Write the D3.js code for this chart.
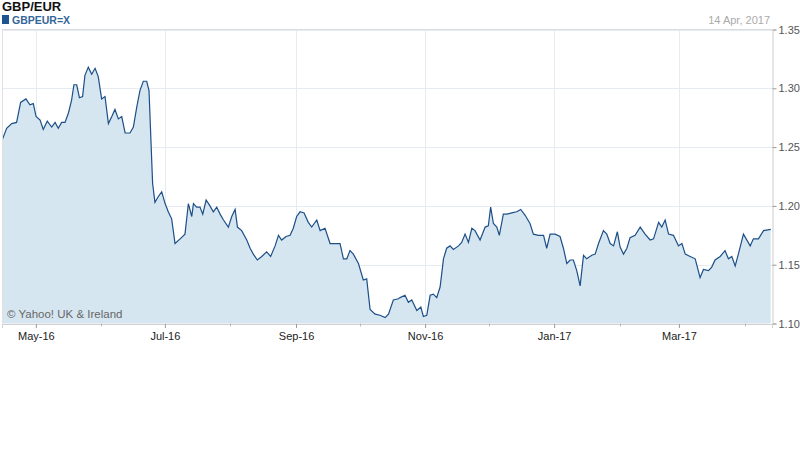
<!DOCTYPE html>
<html><head><meta charset="utf-8">
<script src="https://cdn.jsdelivr.net/npm/d3@7"></script>
<style>body{margin:0;background:#fff;font-family:"Liberation Sans",Arial,sans-serif}</style>
</head><body><svg id="c" width="800" height="475"></svg>
<script>
const startDate = new Date(2016,3,15);
const dayOffsets = [0.3,2.2,4.6,6.9,8.8,11.3,13.2,14.8,16.1,18.0,19.5,21.4,23.5,25.1,26.6,28.2,29.8,31.4,32.9,34.0,35.3,36.6,38.1,39.2,40.8,42.4,44.0,45.5,47.1,48.7,50.3,51.9,53.4,55.0,56.6,58.2,60.5,62.1,63.7,65.2,66.8,68.4,69.5,70.4,71.2,72.3,73.9,75.5,77.1,78.6,80.2,81.8,84.2,86.5,88.1,89.7,90.5,92.0,93.6,94.9,96.5,98.3,99.9,101.5,103.1,104.7,107.0,108.6,110.2,111.3,113.3,115.7,117.3,118.8,120.7,122.8,125.1,127.0,129.1,130.7,132.2,134.3,136.2,137.7,139.3,140.9,142.8,144.8,146.4,148.8,150.4,152.7,155.1,157.4,159.8,161.4,163.0,164.5,166.1,168.5,170.8,172.4,174.0,176.4,178.7,181.1,182.7,185.0,187.4,
188.2,190.5,192.1,193.7,196.1,198.0,199.2,200.8,202.4,203.9,205.5,207.1,208.7,210.2,211.8,213.4,215.8,217.3,218.9,220.5,222.1,223.6,226.0,228.4,229.9,231.0,232.3,233.9,235.1,237.0,238.6,241.0,243.3,245.2,247.3,249.6,251.2,253.6,256.0,257.5,259.1,261.5,263.8,265.4,267.0,268.6,270.1,271.7,273.3,274.9,276.4,278.8,280.4,282.0,284.3,285.9,287.5,289.1,290.9,292.2,293.8,295.4,296.9,299.3,301.7,304.0,306.4,308.0,310.4,311.9,313.5,315.1,317.4,319.8,321.4,323.0,325.3,327.7,330.0,331.6,334.0,335.5,337.1,339.5,341.8,343.4,345.0,346.6,348.1,350.5,353.7,355.2,357.6,360.0,363.4];
const rates = [1.257,1.266,1.270,1.271,1.288,1.291,1.286,1.287,1.276,1.273,1.265,1.272,1.267,1.271,1.266,1.271,1.271,1.279,1.290,1.303,1.303,1.292,1.293,1.311,1.318,1.312,1.317,1.310,1.291,1.293,1.270,1.276,1.282,1.274,1.276,1.262,1.262,1.267,1.284,1.298,1.306,1.306,1.298,1.256,1.219,1.203,1.208,1.212,1.202,1.195,1.189,1.168,1.172,1.176,1.202,1.191,1.202,1.199,1.199,1.193,1.205,1.200,1.195,1.199,1.193,1.188,1.182,1.191,1.197,1.182,1.179,1.171,1.164,1.159,1.154,1.157,1.161,1.157,1.166,1.175,1.171,1.174,1.175,1.181,1.191,1.195,1.194,1.186,1.182,1.188,1.179,1.181,1.168,1.168,1.168,1.155,1.155,1.162,1.159,1.151,1.137,1.138,1.112,1.108,1.107,1.105,1.108,1.120,1.121,
1.122,1.124,1.118,1.120,1.111,1.114,1.106,1.107,1.124,1.125,1.122,1.131,1.155,1.164,1.166,1.163,1.166,1.169,1.176,1.169,1.181,1.179,1.171,1.182,1.183,1.199,1.185,1.182,1.175,1.193,1.193,1.194,1.195,1.197,1.192,1.185,1.176,1.175,1.175,1.164,1.176,1.176,1.174,1.164,1.151,1.154,1.154,1.145,1.132,1.158,1.155,1.158,1.159,1.168,1.179,1.176,1.168,1.166,1.178,1.165,1.159,1.164,1.173,1.175,1.182,1.176,1.171,1.172,1.186,1.182,1.188,1.176,1.175,1.166,1.168,1.159,1.157,1.155,1.139,1.146,1.145,1.148,1.154,1.157,1.162,1.155,1.157,1.149,1.159,1.176,1.166,1.172,1.172,1.179,1.180];
const yTicks = [1.10,1.15,1.20,1.25,1.30,1.35];
const monthLabels = ["May-16","Jul-16","Sep-16","Nov-16","Jan-17","Mar-17"];
const majorDates = [new Date(2016,4,1),new Date(2016,6,1),new Date(2016,8,1),new Date(2016,10,1),new Date(2017,0,1),new Date(2017,2,1)];
const minorDates = [new Date(2016,5,1),new Date(2016,7,1),new Date(2016,9,1),new Date(2016,11,1),new Date(2017,1,1),new Date(2017,3,1)];

const DAY = 86400000;
const data = dayOffsets.map((d,i)=>({date:new Date(startDate.getTime()+d*DAY), v:rates[i]}));
const svg = d3.select("#c");
const L=2, R=772, T=29.5, B=323.5;
const x = d3.scaleTime().domain([startDate, new Date(2017,3,14)]).range([L,R]);
const y = d3.scaleLinear().domain([1.10,1.35]).range([B,T]);

svg.append("g").selectAll("line").data(yTicks).join("line")
  .attr("x1",L).attr("x2",R).attr("y1",d=>Math.round(y(d))+0.5).attr("y2",d=>Math.round(y(d))+0.5)
  .attr("stroke","#e6ebf2");
svg.append("g").selectAll("line").data(majorDates).join("line")
  .attr("x1",d=>Math.round(x(d))+0.5).attr("x2",d=>Math.round(x(d))+0.5).attr("y1",T).attr("y2",B)
  .attr("stroke","#e6ebf2");

svg.append("path").datum(data).attr("fill","#d6e6f1")
  .attr("d",d3.area().x(d=>x(d.date)).y0(B).y1(d=>y(d.v)));
svg.append("path").datum(data).attr("fill","none").attr("stroke","#1c4f87").attr("stroke-width",1.2)
  .attr("d",d3.line().x(d=>x(d.date)).y(d=>y(d.v)));

svg.append("line").attr("x1",L).attr("x2",R).attr("y1",T).attr("y2",T).attr("stroke","#dcdcdc");
svg.append("line").attr("x1",L+0.5).attr("x2",L+0.5).attr("y1",T).attr("y2",B).attr("stroke","#e0e0e0");

const ya = svg.append("g").attr("transform",`translate(${R+0.5},0)`)
  .call(d3.axisRight(y).tickValues(yTicks).tickFormat(d3.format(".2f")).tickSize(4).tickPadding(2));
ya.select(".domain").attr("stroke","#ccc");
ya.selectAll(".tick line").attr("stroke","#999");
ya.selectAll("text").attr("fill","#555").style("font-size","11px").style("font-family","Liberation Sans, Arial");

const xa = svg.append("g").attr("transform",`translate(0,${B+0.5})`)
  .call(d3.axisBottom(x).tickValues(majorDates).tickFormat((d,i)=>monthLabels[i]).tickSize(4).tickPadding(4));
xa.select(".domain").attr("stroke","#d0d0d0");
xa.selectAll(".tick line").attr("stroke","#999");
xa.selectAll("text").attr("fill","#222").style("font-size","11px").style("font-family","Liberation Sans, Arial");
svg.append("g").selectAll("line").data(minorDates).join("line")
  .attr("x1",d=>Math.round(x(d))+0.5).attr("x2",d=>Math.round(x(d))+0.5).attr("y1",B).attr("y2",B+3).attr("stroke","#bbb");

svg.append("text").attr("x",2).attr("y",11).text("GBP/EUR").attr("font-weight","bold").attr("font-size","13px").attr("fill","#111");
svg.append("rect").attr("x",2).attr("y",15).attr("width",7).attr("height",9).attr("fill","#1d5591");
svg.append("text").attr("x",12).attr("y",23.5).text("GBPEUR=X").attr("font-weight","bold").attr("font-size","10.5px").attr("fill","#336699");
svg.append("text").attr("x",770).attr("y",24).attr("text-anchor","end").text("14 Apr, 2017").attr("font-size","11px").attr("fill","#aaa");
svg.append("text").attr("x",7).attr("y",318).text("© Yahoo! UK & Ireland").attr("font-size","11.5px").attr("fill","#666");
</script></body></html>
